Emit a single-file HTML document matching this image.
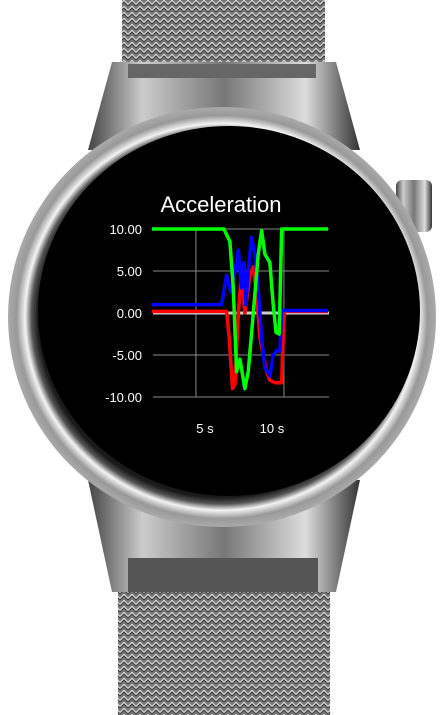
<!DOCTYPE html>
<html><head><meta charset="utf-8">
<style>
html,body{margin:0;padding:0;background:#fff;width:448px;height:715px;overflow:hidden}
svg{display:block}
text{font-family:"Liberation Sans",sans-serif}
</style></head>
<body>
<svg id="s" width="448" height="715" viewBox="0 0 448 715">
<defs>
<pattern id="mesh" width="8" height="6" patternUnits="userSpaceOnUse">
<rect width="8" height="6" fill="#777"/>
<path d="M0 5 L4 1 L8 5" stroke="#e0e0e0" stroke-width="2" fill="none"/>
<path d="M0 6 L4 2 L8 6" stroke="#333" stroke-width="1" fill="none"/>
</pattern>
<linearGradient id="metal" x1="0" x2="1" y1="0" y2="0">
<stop offset="0" stop-color="#444"/><stop offset="0.2" stop-color="#ccc"/><stop offset="0.5" stop-color="#777"/><stop offset="0.8" stop-color="#ddd"/><stop offset="1" stop-color="#333"/>
</linearGradient>
<radialGradient id="bez" cx="0.5" cy="0.5" r="0.5">
<stop offset="0.86" stop-color="#1a1a1a"/><stop offset="0.89" stop-color="#555"/><stop offset="0.92" stop-color="#f4f4f4"/><stop offset="0.96" stop-color="#999"/><stop offset="1" stop-color="#aaa"/>
</radialGradient>
</defs>
<rect x="122" y="0" width="203" height="64" fill="url(#mesh)"/>
<rect x="118" y="592" width="212" height="123" fill="url(#mesh)"/>
<path d="M112 62 L336 62 L360 150 L88 150 Z" fill="url(#metal)"/>
<rect x="128" y="64" width="188" height="14" fill="#666"/>
<path d="M88 480 L360 480 L336 592 L112 592 Z" fill="url(#metal)"/>
<rect x="128" y="558" width="190" height="34" fill="#555"/>
<rect x="396" y="180" width="36" height="52" rx="6" fill="url(#metal)"/>
<ellipse cx="222" cy="317" rx="214" ry="210" fill="url(#bez)"/>
<ellipse cx="229" cy="311" rx="191" ry="185" fill="#000"/>
<g id="chart">
<text x="221" y="212" fill="#fff" font-size="22" text-anchor="middle">Acceleration</text>
</g>
</svg>
<script>
const yTicks=[10,5,0,-5,-10];
const yTickLabels=["10.00","5.00","0.00","-5.00","-10.00"];
const xTicks=[5,10];
const xTickLabels=["5 s","10 s"];
const greenT=[2.5,6.59,6.93,7.12,7.31,7.50,7.78,7.97,8.26,8.54,8.73,8.92,9.20,9.39,9.55,9.73,9.87,12.5];
const greenV=[10,10,8.5,3,-7,-5.5,-9,-7,0,7,9.8,7,6,1,-2.3,-2.5,10,10];
const blueT=[2.5,6.46,6.74,6.99,7.22,7.41,7.59,7.73,7.84,7.97,8.16,8.35,8.54,8.73,8.92,9.20,9.39,9.58,9.77,9.87,12.5];
const blueV=[1,1,4.5,2.5,5,7.5,3,6,1,5,9,7,3,-3,-6.5,-7.5,-5,-4.5,-4.5,0.3,0.3];
const redT=[2.5,6.74,6.89,7.08,7.22,7.41,7.59,7.78,8.07,8.26,8.45,8.64,8.83,9.02,9.20,9.49,9.87,9.92,10.02,12.5];
const redV=[0.2,0.2,-3,-9,-8.5,0,5,0,4.5,5.5,2,-3,-5,-7,-8,-8.3,-8.3,-5,0.2,0.2];
const X0=153,X1=329,T0=2.56,T1=12.56,Y0=313,PXU=8.4;
const xs=t=>X0+(t-T0)/(T1-T0)*(X1-X0);
const ys=v=>Y0-v*PXU;
const NS="http://www.w3.org/2000/svg";
const g=document.getElementById('chart');
function mk(tag,a){const e=document.createElementNS(NS,tag);for(const k in a)e.setAttribute(k,a[k]);g.appendChild(e);return e;}
yTicks.forEach((v,i)=>{
 const l=mk('line',{x1:X0,x2:X1,y1:ys(v),y2:ys(v),stroke:'#888','stroke-width':1});
 
 
 const t=mk('text',{x:X0-11,y:ys(v)+5,fill:'#fff','font-size':13,'text-anchor':'end'});
 t.textContent=yTickLabels[i];
 
 
});
xTicks.forEach((v,i)=>{
 const l=mk('line',{x1:xs(v),x2:xs(v),y1:ys(10),y2:ys(-10),stroke:'#888','stroke-width':1});
 
 
 const t=mk('text',{x:xs(v)+(i===0?9:-12),y:433,fill:'#fff','font-size':13,'text-anchor':'middle'});
 t.textContent=xTickLabels[i];
 
 
});
const zl=mk('line',{x1:X0,x2:X1,y1:ys(0),y2:ys(0),stroke:'#ccc','stroke-width':3});


function series(T,V,c,name){
 const p=mk('polyline',{points:T.map((t,i)=>xs(t)+','+ys(V[i])).join(' '),fill:'none',stroke:c,'stroke-width':3.5,'stroke-linejoin':'round'});
 
 
}
series(redT,redV,'#ff0000','series-x-red');
series(blueT,blueV,'#0000ff','series-z-blue');
series(greenT,greenV,'#00ff00','series-y-green');
</script>
</body></html>
